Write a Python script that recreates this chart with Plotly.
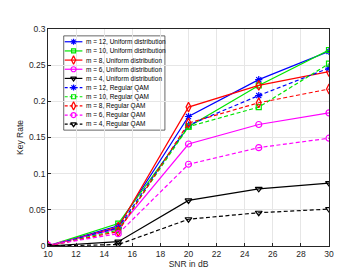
import plotly.graph_objects as go

snr = [10, 15, 20, 25, 30]

uni_m12 = [0.000, 0.028, 0.179, 0.230, 0.269]
uni_m10 = [0.000, 0.031, 0.165, 0.222, 0.271]
uni_m8 = [0.000, 0.026, 0.192, 0.222, 0.241]
uni_m6 = [0.001, 0.024, 0.141, 0.168, 0.184]
uni_m4 = [0.000, 0.006, 0.063, 0.079, 0.087]
qam_m12 = [0.000, 0.025, 0.167, 0.208, 0.246]
qam_m10 = [0.000, 0.022, 0.165, 0.192, 0.252]
qam_m8 = [0.000, 0.020, 0.170, 0.198, 0.217]
qam_m6 = [0.001, 0.017, 0.113, 0.136, 0.149]
qam_m4 = [0.000, 0.002, 0.037, 0.046, 0.051]

labels = [
    "m = 12, Uniform distribution",
    "m = 10, Uniform distribution",
    "m = 8, Uniform distribution",
    "m = 6, Uniform distribution",
    "m = 4, Uniform distribution",
    "m = 12, Regular QAM",
    "m = 10, Regular QAM",
    "m = 8, Regular QAM",
    "m = 6, Regular QAM",
    "m = 4, Regular QAM",
]
series = [uni_m12, uni_m10, uni_m8, uni_m6, uni_m4,
          qam_m12, qam_m10, qam_m8, qam_m6, qam_m4]
colors = ["#0000ff", "#00e600", "#ff0000", "#ff00ff", "#000000"] * 2
symbols = ["asterisk-open", "square-open", "diamond-tall-open", "circle-open", "triangle-down-open"] * 2
sizes = [6, 5, 7, 6, 6] * 2
dashes = ["solid"] * 5 + ["4px,2.5px"] * 5

fig = go.Figure()
for ys, lab, c, s, sz, d in zip(series, labels, colors, symbols, sizes, dashes):
    fig.add_trace(go.Scatter(
        x=snr, y=ys, name=lab, mode="lines+markers",
        line=dict(color=c, width=1.2, dash=d),
        marker=dict(symbol=s, size=sz, color=c, line=dict(color=c, width=1.2)),
        showlegend=False,
    ))

# custom compact legend drawn on an overlay axis in pixel units
L, R, T, B = 35, 321, 21, 242
box_x0, box_x1, box_y0, box_y1 = 51, 154, 28, 124
row0, drow = 34, 9.33
for i, (lab, c, s, sz, d) in enumerate(zip(labels, colors, symbols, sizes, dashes)):
    yy = row0 + i * drow
    fig.add_trace(go.Scatter(
        x=[52, 70], y=[yy, yy], mode="lines", xaxis="x2", yaxis="y2",
        line=dict(color=c, width=1.2, dash="3px,2px" if d != "solid" else "solid"),
        showlegend=False, hoverinfo="skip"))
    fig.add_trace(go.Scatter(
        x=[61], y=[yy], mode="markers", xaxis="x2", yaxis="y2",
        marker=dict(symbol=s, size=sz - 1, color=c, line=dict(color=c, width=1.2)),
        showlegend=False, hoverinfo="skip"))
    fig.add_annotation(x=71.5, y=yy, xref="x2", yref="y2", text=lab, showarrow=False,
                       xanchor="left", yanchor="middle",
                       font=dict(size=6.5, color="#000000", family="Liberation Sans"))

fig.add_shape(type="rect", xref="x2", yref="y2", x0=box_x0, x1=box_x1, y0=box_y0, y1=box_y1,
              line=dict(color="#262626", width=0.7), fillcolor="white", layer="below")

axis_common = dict(
    showline=True, linecolor="#262626", linewidth=0.7, mirror=True,
    showgrid=True, gridcolor="#e6e6e6", gridwidth=0.7,
    ticks="inside", ticklen=3, tickcolor="#262626", tickwidth=0.7,
    zeroline=False,
    tickfont=dict(size=8.5, color="#262626", family="Liberation Sans"),
)

fig.update_layout(
    width=345, height=272,
    margin=dict(l=L, r=345 - R, t=T, b=272 - B),
    paper_bgcolor="white", plot_bgcolor="white",
    font=dict(family="Liberation Sans", color="#262626"),
    xaxis=dict(range=[10, 30], dtick=2, title=dict(text="SNR in dB", font=dict(size=8.5), standoff=3), **axis_common),
    yaxis=dict(range=[0, 0.3], dtick=0.05, title=dict(text="Key Rate", font=dict(size=8.5), standoff=3), **axis_common),
    xaxis2=dict(range=[L, R], overlaying="x", visible=False, fixedrange=True),
    yaxis2=dict(range=[B, T], overlaying="y", visible=False, fixedrange=True),
)

fig.write_html("out.html")
